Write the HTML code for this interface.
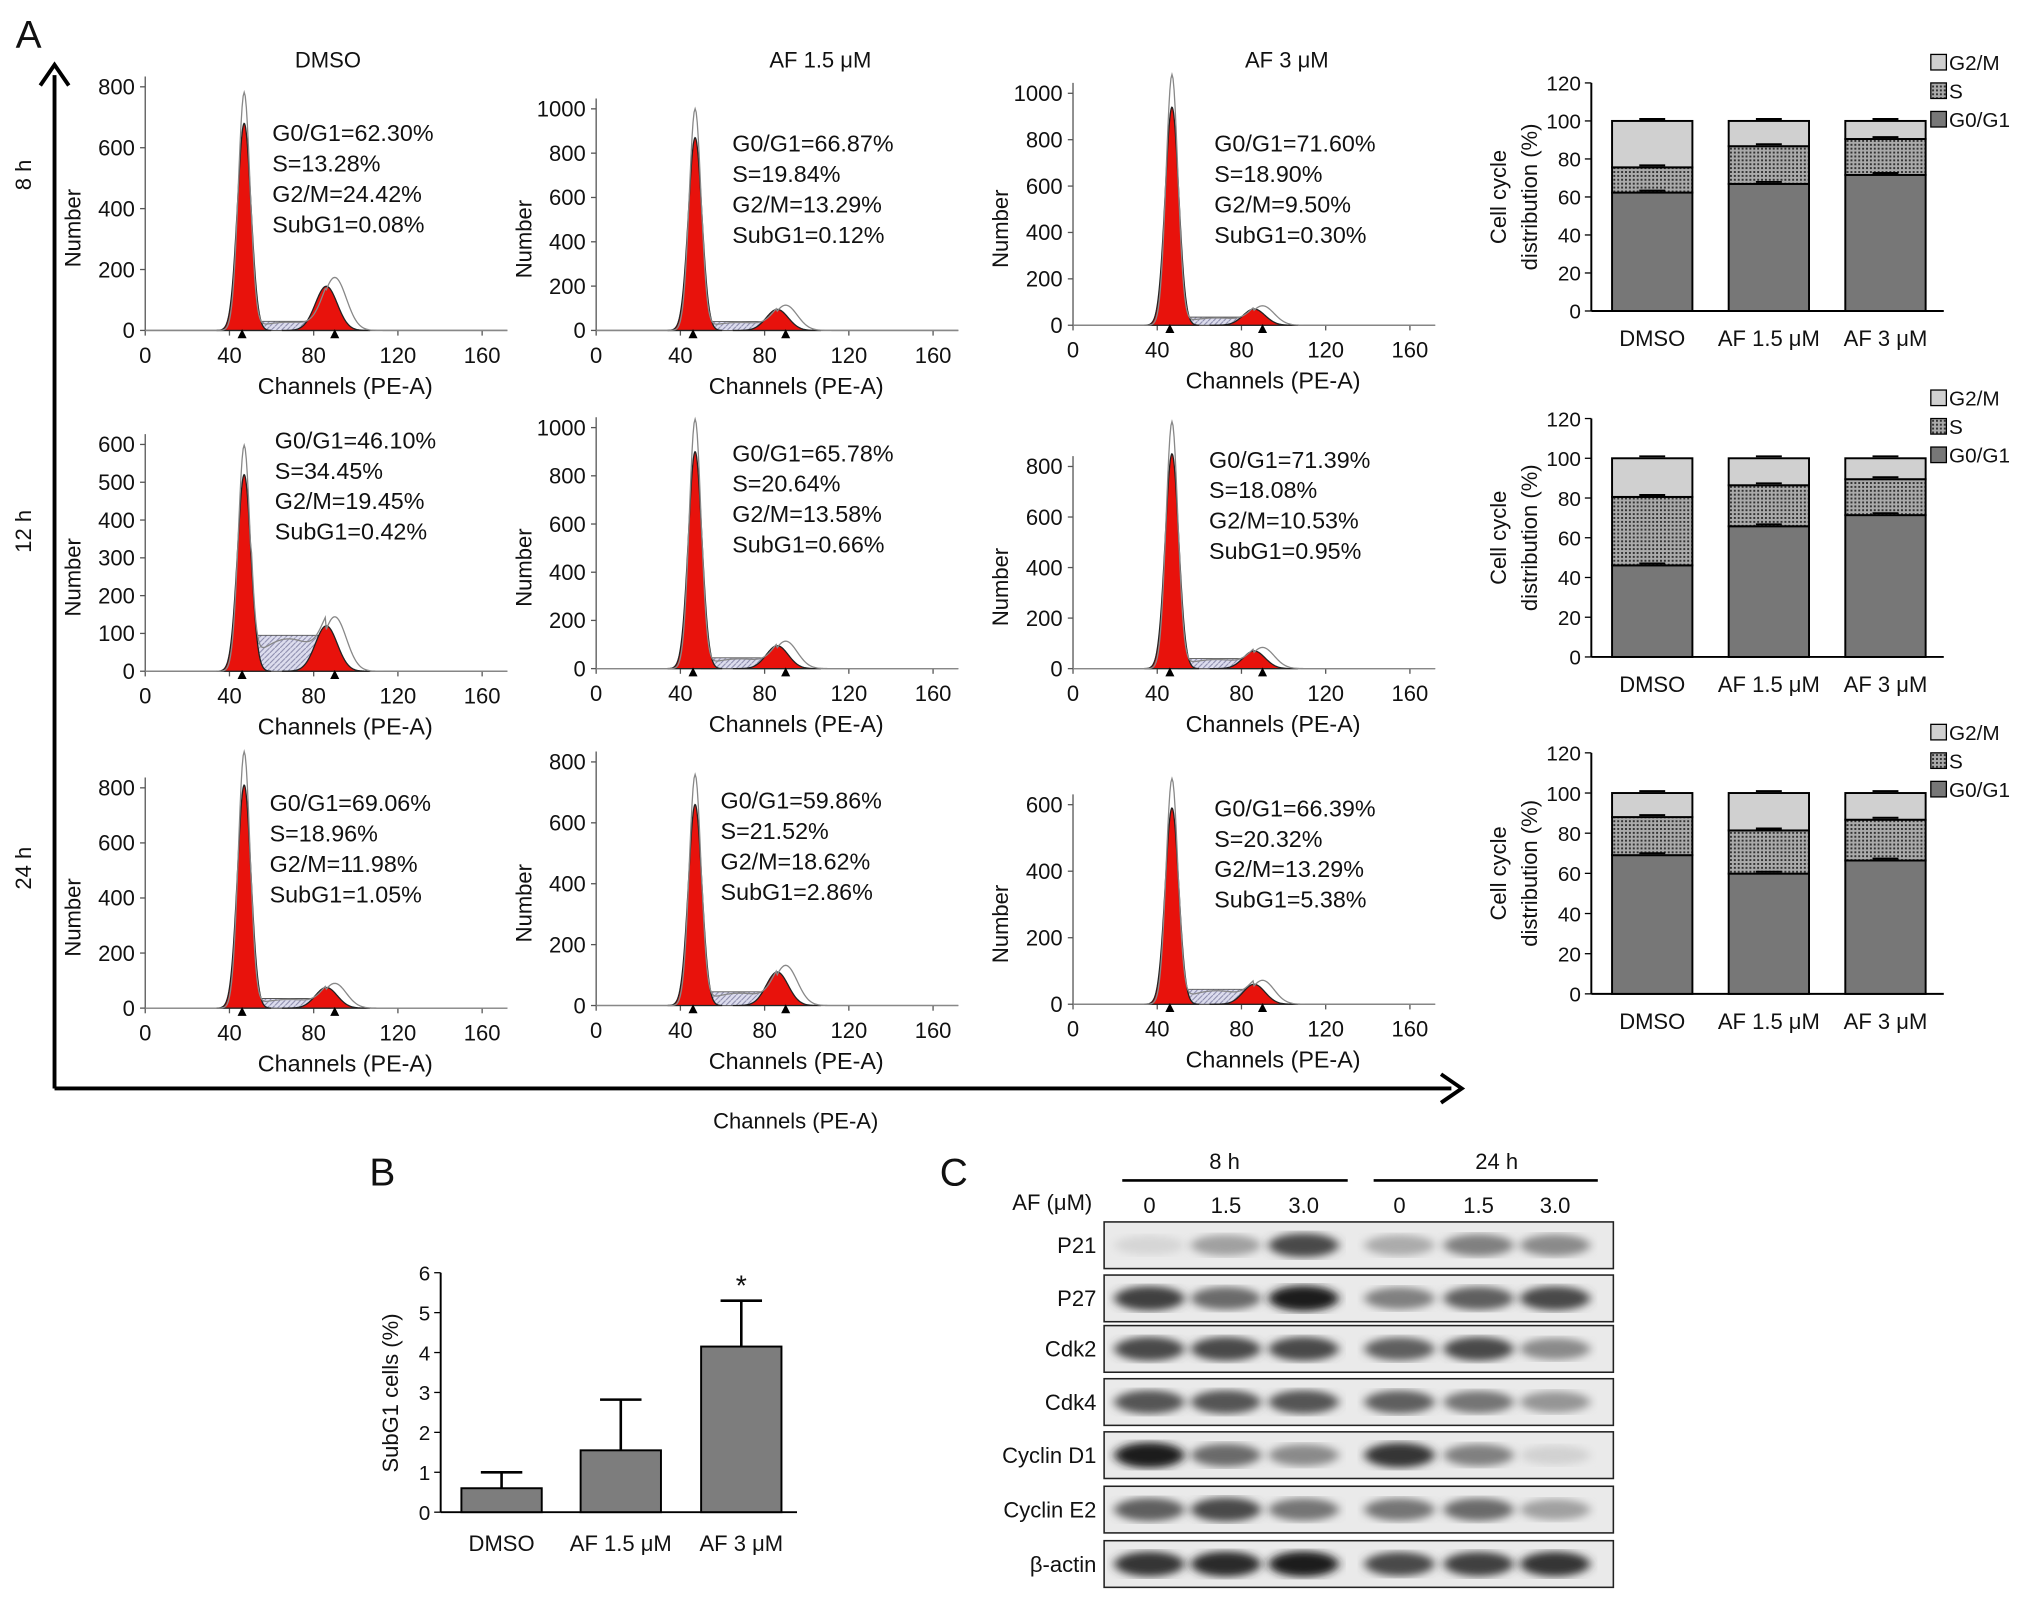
<!DOCTYPE html>
<html><head><meta charset="utf-8"><style>
html,body{margin:0;padding:0;background:#fff}
svg{display:block;font-family:"Liberation Sans",Arial,sans-serif}
</style></head><body>
<svg id="fig" width="2032" height="1599" viewBox="0 0 1568 1234" xmlns="http://www.w3.org/2000/svg">
<defs>
<pattern id="hatch" width="4" height="4" patternUnits="userSpaceOnUse"><rect width="4" height="4" fill="#dde"/><path d="M0,4L4,0" stroke="#88a" stroke-width="0.8"/></pattern>
<pattern id="dots" width="3" height="3" patternUnits="userSpaceOnUse"><rect width="3" height="3" fill="#aaa"/><rect width="1.5" height="1.5" fill="#333"/></pattern>
<filter id="blur"><feGaussianBlur stdDeviation="4 3"/></filter>
</defs>
<g id="root"></g>
</svg>
<script>
// ---- data ----
const conditions = ["DMSO","AF 1.5 \u03bcM","AF 3 \u03bcM"];
const times = ["8 h","12 h","24 h"];
const g1Pct = [[62.30,66.87,71.60],[46.10,65.78,71.39],[69.06,59.86,66.39]];
const sPct = [[13.28,19.84,18.90],[34.45,20.64,18.08],[18.96,21.52,20.32]];
const g2Pct = [[24.42,13.29,9.50],[19.45,13.58,10.53],[11.98,18.62,13.29]];
const subPct = [["0.08","0.12","0.30"],["0.42","0.66","0.95"],["1.05","2.86","5.38"]];
const g1Str = [["62.30","66.87","71.60"],["46.10","65.78","71.39"],["69.06","59.86","66.39"]];
const sStr = [["13.28","19.84","18.90"],["34.45","20.64","18.08"],["18.96","21.52","20.32"]];
const g2Str = [["24.42","13.29","9.50"],["19.45","13.58","10.53"],["11.98","18.62","13.29"]];
const g1Peak = [[680,870,940],[520,900,850],[810,660,590]];
const g2Peak = [[145,95,70],[120,95,70],[75,110,60]];
const sLevel = [[30,40,35],[95,45,40],[35,45,45]];
const yMaxHist = [[800,1000,1000],[600,1000,800],[800,800,600]];
const yTickStep = [[200,200,200],[100,200,200],[200,200,200]];
const xTicks = [0,40,80,120,160];
const subG1Mean = [0.6,1.55,4.15];
const subG1Err = [0.4,1.27,1.15];
const subG1Ticks = [0,1,2,3,4,5,6];
const barTicks = [0,20,40,60,80,100,120];
const blotNames = ["P21","P27","Cdk2","Cdk4","Cyclin D1","Cyclin E2","\u03b2-actin"];
const blotLanes = ["0","1.5","3.0","0","1.5","3.0"];
const blotIntensity = [
 [0.1,0.35,0.75,0.3,0.5,0.45],
 [0.8,0.6,0.95,0.5,0.65,0.75],
 [0.75,0.75,0.75,0.65,0.75,0.45],
 [0.7,0.7,0.7,0.65,0.55,0.4],
 [0.95,0.6,0.45,0.85,0.5,0.12],
 [0.65,0.75,0.55,0.55,0.6,0.35],
 [0.85,0.9,0.95,0.75,0.8,0.85]];

// ---- helpers ----
const NS="http://www.w3.org/2000/svg", root=document.getElementById('root');
function el(tag,attrs,parent,text){const e=document.createElementNS(NS,tag);for(const k in attrs)e.setAttribute(k,attrs[k]);if(text!==undefined)e.textContent=text;(parent||root).appendChild(e);return e;}
function txt(x,y,s,size,parent,anchor,rot){const a={x:x,y:y,'font-size':size,'text-anchor':anchor||'middle',fill:'#111'};if(rot)a.transform=`rotate(-90 ${x} ${y})`;return el('text',a,parent,s);}

let t=txt(22,37,"A",30,root);
el('line',{x1:42,y1:840,x2:42,y2:58,stroke:'#000','stroke-width':3});
el('path',{d:'M31,66 L42,50 L53,66',fill:'none',stroke:'#000','stroke-width':3});
el('line',{x1:42,y1:840,x2:1120,y2:840,stroke:'#000','stroke-width':3});
el('path',{d:'M1112,829 L1128,840 L1112,851',fill:'none',stroke:'#000','stroke-width':3});
t=txt(614,871,"Channels (PE-A)",17);
const rowLabelY=[135,410,670];
times.forEach((tm,i)=>{const e=txt(24,rowLabelY[i],tm,17,root,'middle',true);});
const colTitleX=[253,633,993];
conditions.forEach((c,j)=>{const e=txt(colTitleX[j],52,c,17);});

const x0s=[112,460,828];
const base=[[255,255,251],[518,516,516],[778,776,775]];
const topY=[[67,84,72],[343,330,360],[608,588,621]];
const textPos=[[[210,103],[565,111],[937,111]],[[212,340],[565,350],[933,355]],[[208,620],[556,618],[937,624]]];
const pxPerCh=260/160;
function gauss(x,m,s){return Math.exp(-0.5*((x-m)/s)**2);}
for(let r=0;r<3;r++)for(let c=0;c<3;c++){
 const g=el('g',{});
 const X=v=>x0s[c]+v*pxPerCh, y0=base[r][c], ymax=yMaxHist[r][c];
 const Y=v=>y0-(v/ymax)*(y0-topY[r][c]);
 el('line',{x1:X(0),y1:Y(ymax)-8,x2:X(0),y2:y0,stroke:'#555','stroke-width':1},g);
 el('line',{x1:X(0),y1:y0,x2:X(172),y2:y0,stroke:'#555','stroke-width':1},g);
 for(let v=0;v<=ymax;v+=yTickStep[r][c]){el('line',{x1:X(0)-4,y1:Y(v),x2:X(0),y2:Y(v),stroke:'#555'},g);txt(X(0)-8,Y(v)+6,String(v),17,g,'end');}
 xTicks.forEach(v=>{el('line',{x1:X(v),y1:y0,x2:X(v),y2:y0+4,stroke:'#555'},g);txt(X(v),y0+25,String(v),17,g);});
 txt(X(0)-50,(y0+topY[r][c])/2+15,"Number",17,g,'middle',true);
 txt(X(95),y0+49,"Channels (PE-A)",18,g);
 const P1=g1Peak[r][c],P2=g2Peak[r][c],S=sLevel[r][c];
 let d=`M${X(50)},${y0}`;for(let v=50;v<=88;v+=1){d+=` L${X(v)},${Y(S*Math.min(1,(v-47)/6)*Math.min(1,(92-v)/6))}`;}d+=` L${X(88)},${y0}Z`;
 el('path',{d:d,fill:'url(#hatch)',stroke:'#555','stroke-width':0.7},g);
 [[47,3.2,P1],[86,5.2,P2]].forEach(([m,s,p])=>{let dd=`M${X(m-4*s)},${y0}`;for(let v=m-4*s;v<=m+4*s;v+=0.25)dd+=` L${X(v)},${Y(p*gauss(v,m,s))}`;dd+=` L${X(m+4*s)},${y0}Z`;el('path',{d:dd,fill:'#e8120c',stroke:'#222','stroke-width':1},g);});
 let o=`M${X(0)},${y0}`;for(let v=0;v<=172;v+=0.5){const h=P1*1.15*gauss(v,47,2.8)+P2*1.2*gauss(v,90,5.5)+S*0.9*(v>50&&v<86?1:0)*gauss(v,68,14)/gauss(68,68,14);o+=` L${X(v)},${Y(h)}`;}
 el('path',{d:o,fill:'none',stroke:'#888','stroke-width':1},g);
 el('path',{d:`M${X(46)},${y0+6}l-3.5,0l3.5,-7l3.5,7z M${X(90)},${y0+6}l-3.5,0l3.5,-7l3.5,7z`,fill:'#000'},g);
 const [tx,ty]=textPos[r][c];
 [`G0/G1=${g1Str[r][c]}%`,`S=${sStr[r][c]}%`,`G2/M=${g2Str[r][c]}%`,`SubG1=${subPct[r][c]}%`].forEach((s,k)=>txt(tx,ty+k*23.5+6,s,18,g,'start'));
}

const sbBase=[240,507,767], sbTop=[64,323,581], barX=[1275,1365,1455];
for(let r=0;r<3;r++){
 const g=el('g',{});
 const Y=v=>sbBase[r]-v/120*(sbBase[r]-sbTop[r]);
 el('line',{x1:1228,y1:Y(120),x2:1228,y2:Y(0),stroke:'#000','stroke-width':1.5},g);
 el('line',{x1:1228,y1:Y(0),x2:1500,y2:Y(0),stroke:'#000','stroke-width':1.5},g);
 barTicks.forEach(v=>{el('line',{x1:1223,y1:Y(v),x2:1228,y2:Y(v),stroke:'#000'},g);txt(1220,Y(v)+6,String(v),16,g,'end');});
 txt(1162,(Y(0)+Y(120))/2,"Cell cycle",17,g,'middle',true);
 txt(1186,(Y(0)+Y(120))/2,"distribution (%)",17,g,'middle',true);
 for(let c=0;c<3;c++){
  const a=g1Pct[r][c],b=a+sPct[r][c],tot=b+g2Pct[r][c];
  el('rect',{x:barX[c]-31,y:Y(a),width:62,height:Y(0)-Y(a),fill:'#777',stroke:'#000','stroke-width':1.5},g);
  el('rect',{x:barX[c]-31,y:Y(b),width:62,height:Y(a)-Y(b),fill:'url(#dots)',stroke:'#000','stroke-width':1.5},g);
  el('rect',{x:barX[c]-31,y:Y(tot),width:62,height:Y(b)-Y(tot),fill:'#d0d0d0',stroke:'#000','stroke-width':1.5},g);
  [a,b,tot].forEach(v=>el('line',{x1:barX[c]-10,y1:Y(v)-1.5,x2:barX[c]+10,y2:Y(v)-1.5,stroke:'#000','stroke-width':1.5},g));
  txt(barX[c],Y(0)+27,conditions[c],17,g);
 }
 const ly=Y(120)-16;
 [['#d0d0d0','G2/M'],['url(#dots)','S'],['#777','G0/G1']].forEach(([f,l],k)=>{el('rect',{x:1490,y:ly+k*22-6,width:12,height:12,fill:f,stroke:'#000'},g);txt(1504,ly+k*22+6,l,16,g,'start');});
}

{
 const g=el('g',{});
 t=txt(295,915,"B",30,g);
 const Y=v=>1167-v*30.8, bx=[387,479,572];
 el('line',{x1:340,y1:Y(6),x2:340,y2:Y(0),stroke:'#000','stroke-width':1.5},g);
 el('line',{x1:340,y1:Y(0),x2:615,y2:Y(0),stroke:'#000','stroke-width':1.5},g);
 subG1Ticks.forEach(v=>{el('line',{x1:335,y1:Y(v),x2:340,y2:Y(v),stroke:'#000'},g);txt(332,Y(v)+6,String(v),16,g,'end');});
 txt(307,1075,"SubG1 cells (%)",17,g,'middle',true);
 subG1Mean.forEach((m,i)=>{
  const top=Y(m+subG1Err[i]);
  el('line',{x1:bx[i],y1:top,x2:bx[i],y2:Y(m),stroke:'#000','stroke-width':2},g);
  el('line',{x1:bx[i]-16,y1:top,x2:bx[i]+16,y2:top,stroke:'#000','stroke-width':2},g);
  el('rect',{x:bx[i]-31,y:Y(m),width:62,height:Y(0)-Y(m),fill:'#7d7d7d',stroke:'#000','stroke-width':1.5},g);
  txt(bx[i],1197,conditions[i],17,g);
 });
 txt(bx[2],Y(subG1Mean[2]+subG1Err[2])-4,"*",22,g);
}

{
 const g=el('g',{});
 t=txt(736,915,"C",30,g);
 txt(945,902,"8 h",17,g);txt(1155,902,"24 h",17,g);
 el('line',{x1:866,y1:911,x2:1040,y2:911,stroke:'#000','stroke-width':2},g);
 el('line',{x1:1060,y1:911,x2:1233,y2:911,stroke:'#000','stroke-width':2},g);
 txt(812,934,"AF (\u03bcM)",17,g);
 const lx=[887,946,1006,1080,1141,1200];
 blotLanes.forEach((l,i)=>txt(lx[i],936,l,17,g));
 const rowsY=[943,984,1023,1064,1105,1147,1189];
 blotNames.forEach((n,r)=>{
  const y=rowsY[r],h=36;
  txt(846,y+h/2+6,n,17,g,'end');
  el('rect',{x:852,y:y,width:393,height:h,fill:'#eaeaea',stroke:'#222','stroke-width':1.2},g);
  blotIntensity[r].forEach((v,i)=>{
   const sh=Math.round(235-v*215);
   el('ellipse',{cx:lx[i],cy:y+h/2,rx:27,ry:7+v*3,fill:`rgb(${sh},${sh},${sh})`,filter:'url(#blur)'},g);
  });
 });
}
</script>
</body></html>
